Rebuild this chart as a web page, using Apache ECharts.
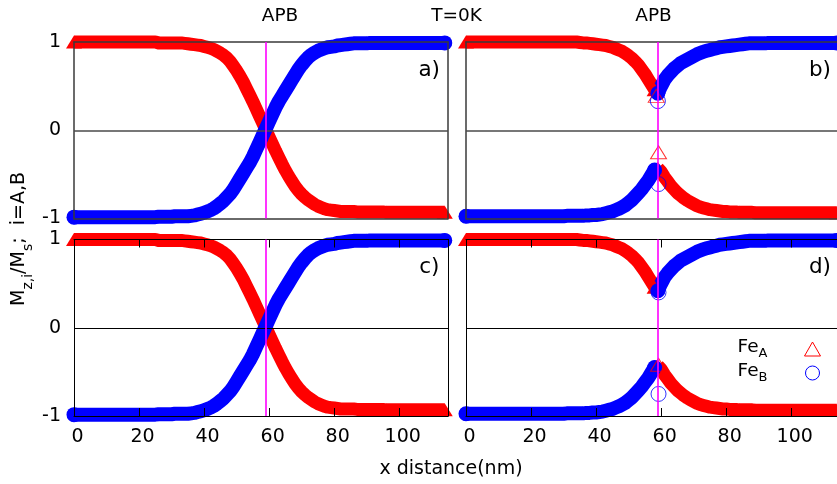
<!DOCTYPE html>
<html><head><meta charset="utf-8">
<script src="https://cdn.jsdelivr.net/npm/echarts@6/dist/echarts.min.js"></script>
<style>html,body{margin:0;padding:0;background:#fff}#c{width:837px;height:484px}</style>
</head><body><div id="c"></div>
<script>
// ---------- data ----------
const xTickLabels = [0, 20, 40, 60, 80, 100];
const yTickLabels = [-1, 0, 1];
const panelLetters = ['a)', 'b)', 'c)', 'd)'];
const apbX = 59.1;

// x positions (nm) for panels a) and c)
const xAll = [
  0,1,2,3,4,5,6,7,8,9, 10,11,12,13,14,15,16,17,18,19,
  20,21,22,23,24,25,26,27,28,29, 30,31,32,33,34,35,36,37,38,39,
  40,41,42,43,44,45,46,47,48,49, 50,51,52,53,54,55,56,57,58,59,
  60,61,62,63,64,65,66,67,68,69, 70,71,72,73,74,75,76,77,78,79,
  80,81,82,83,84,85,86,87,88,89, 90,91,92,93,94,95,96,97,98,99,
  100,101,102,103,104,105,106,107,108,109, 110,111,112,113,114
];
// panels a), c): Fe_A (red triangles)
const feA_ac = [
  1,1,1,1,1,1,1,1,1,1,
  1,1,1,1,1,1,1,1,1,1,
  1,1,1,1,1,1,0.99,0.99,0.99,0.99,
  0.99,0.99,0.99,0.99,0.985,0.98,0.975,0.97,0.965,0.96,
  0.95,0.94,0.93,0.915,0.895,0.875,0.85,0.82,0.78,0.73,
  0.675,0.615,0.55,0.475,0.40,0.325,0.245,0.165,0.085,0.005,
  -0.075,-0.155,-0.235,-0.31,-0.385,-0.455,-0.52,-0.58,-0.635,-0.685,
  -0.725,-0.76,-0.79,-0.815,-0.84,-0.86,-0.875,-0.89,-0.9,-0.905,
  -0.91,-0.915,-0.92,-0.92,-0.92,-0.92,-0.92,-0.925,-0.925,-0.925,
  -0.925,-0.925,-0.925,-0.925,-0.925,-0.925,-0.93,-0.93,-0.93,-0.93,
  -0.93,-0.93,-0.93,-0.93,-0.93,-0.93,-0.93,-0.93,-0.93,-0.93,
  -0.93,-0.93,-0.93,-0.93,-0.93
];
// panels a), c): Fe_B (blue circles)
const feB_ac = [
  -0.985,-0.985,-0.985,-0.985,-0.985,-0.985,-0.985,-0.985,-0.985,-0.985,
  -0.985,-0.985,-0.985,-0.985,-0.985,-0.985,-0.985,-0.985,-0.985,-0.985,
  -0.985,-0.985,-0.985,-0.985,-0.985,-0.985,-0.98,-0.98,-0.98,-0.98,
  -0.98,-0.975,-0.975,-0.975,-0.975,-0.975,-0.97,-0.965,-0.955,-0.945,
  -0.935,-0.92,-0.905,-0.885,-0.86,-0.83,-0.8,-0.76,-0.72,-0.67,
  -0.61,-0.55,-0.49,-0.43,-0.37,-0.3,-0.22,-0.14,-0.06,0.02,
  0.1,0.18,0.26,0.33,0.39,0.45,0.51,0.57,0.63,0.69,
  0.74,0.785,0.825,0.855,0.88,0.9,0.915,0.93,0.94,0.945,
  0.95,0.96,0.965,0.97,0.975,0.98,0.985,0.985,0.985,0.985,
  0.985,0.99,0.99,0.99,0.99,0.99,0.99,0.99,0.99,0.99,
  0.99,0.99,0.99,0.99,0.99,0.99,0.99,0.99,0.99,0.99,
  0.99,0.99,0.99,0.99,0.99
];

// panels b), d): branches left / right of the APB
const xLeft = [
  0,1,2,3,4,5,6,7,8,9, 10,11,12,13,14,15,16,17,18,19,
  20,21,22,23,24,25,26,27,28,29, 30,31,32,33,34,35,36,37,38,39,
  40,41,42,43,44,45,46,47,48,49, 50,51,52,53,54,55,56,57,58
];
const xRight = [
  59,60,61,62,63,64,65,66,67,68,69,
  70,71,72,73,74,75,76,77,78,79, 80,81,82,83,84,85,86,87,88,89,
  90,91,92,93,94,95,96,97,98,99, 100,101,102,103,104,105,106,107,108,109,
  110,111,112,113,114
];
const feA_bd_left = [
  1,1,1,1,1,1,1,1,1,1,
  1,1,1,1,1,1,1,1,1,1,
  1,1,1,1,1,1,1,1,1,1,
  1,1,1,1,1,0.995,0.99,0.99,0.985,0.98,
  0.975,0.97,0.965,0.96,0.95,0.94,0.925,0.91,0.895,0.87,
  0.845,0.815,0.78,0.74,0.69,0.64,0.58,0.52,0.46
];
const feA_bd_right = [
  -0.43,-0.47,-0.53,-0.58,-0.63,-0.67,-0.71,-0.74,-0.77,-0.795,-0.815,
  -0.835,-0.855,-0.87,-0.88,-0.89,-0.9,-0.905,-0.91,-0.915,-0.92,
  -0.92,-0.925,-0.925,-0.925,-0.93,-0.93,-0.93,-0.93,-0.93,-0.935,
  -0.935,-0.935,-0.935,-0.935,-0.935,-0.935,-0.935,-0.935,-0.935,-0.935,
  -0.935,-0.935,-0.935,-0.935,-0.935,-0.935,-0.935,-0.935,-0.935,-0.935,
  -0.935,-0.935,-0.935,-0.935,-0.935
];
const feB_bd_left = [
  -0.975,-0.975,-0.975,-0.975,-0.975,-0.975,-0.975,-0.975,-0.975,-0.975,
  -0.975,-0.975,-0.975,-0.975,-0.975,-0.975,-0.975,-0.975,-0.975,-0.975,
  -0.975,-0.975,-0.975,-0.975,-0.975,-0.975,-0.975,-0.975,-0.975,-0.975,
  -0.975,-0.97,-0.97,-0.97,-0.97,-0.97,-0.97,-0.965,-0.965,-0.96,
  -0.96,-0.955,-0.95,-0.94,-0.93,-0.92,-0.905,-0.89,-0.87,-0.85,
  -0.82,-0.79,-0.75,-0.71,-0.67,-0.62,-0.57,-0.51,-0.45
];
const feB_bd_right = [
  0.42,0.5,0.57,0.62,0.66,0.7,0.73,0.76,0.78,0.8,0.82,
  0.84,0.86,0.875,0.89,0.9,0.91,0.92,0.93,0.94,0.945,
  0.95,0.955,0.96,0.965,0.97,0.975,0.98,0.985,0.985,0.985,
  0.985,0.985,0.985,0.99,0.99,0.99,0.99,0.99,0.99,0.99,
  0.99,0.99,0.99,0.99,0.99,0.99,0.99,0.99,0.99,0.99,
  0.99,0.99,0.99,0.99,0.99
];
// isolated APB sites (open symbols)
const apbB_feA = [[58.5, 0.39], [59.2, -0.25]];
const apbB_feB = [[59.0, 0.33], [59.2, -0.61]];
const apbD_feA = [[59.2, -0.42]];
const apbD_feB = [[59.2, 0.40], [59.2, -0.75]];

// ---------- chart ----------
const FONT = 'DejaVu Sans';
const RED = '#ff0000', BLUE = '#0000ff', MAG = '#ff00ff';
const SYM_A = {symbol: 'triangle', symbolSize: [16, 13]};
const SYM_B = {symbol: 'circle', symbolSize: 15};
const pairs = (xs, ys) => xs.map((x, i) => [x, ys[i]]).filter(p => p[1] != null);

const grids = [
  {left: 74, top: 42, width: 374, height: 176.5},
  {left: 466, top: 42, width: 374, height: 176.5},
  {left: 74, top: 239.5, width: 374, height: 176.5},
  {left: 466, top: 239.5, width: 374, height: 176.5}
].map(g => Object.assign({outerBoundsMode: 'none', containLabel: false}, g));

const xAxes = [], yAxes = [], series = [];

// a dense run of symbols, drawn as a thick stroke through the points with the symbol at both ends
function band(kind, xi, yi, pts) {
  const isRed = kind === 'A';
  const col = isRed ? RED : BLUE;
  const sym = isRed ? SYM_A : SYM_B;
  const data = pts.map((p, k) => (k === 0 || k === pts.length - 1)
    ? Object.assign({value: p}, sym) : {value: p});
  series.push({type: 'line', name: isRed ? 'FeA' : 'FeB', xAxisIndex: xi, yAxisIndex: yi, data: data,
    symbol: 'none', showSymbol: true, showAllSymbol: true, clip: false, silent: true, animation: false, z: 2,
    itemStyle: {color: col},
    lineStyle: {color: col, width: isRed ? 13 : 14, cap: isRed ? 'butt' : 'round', join: 'round'}});
}
function openPts(kind, xi, yi, data, marks) {
  const isRed = kind === 'A';
  const s = Object.assign({type: 'scatter', name: isRed ? 'FeA' : 'FeB', xAxisIndex: xi, yAxisIndex: yi, data: data,
    itemStyle: {color: 'rgba(0,0,0,0)', borderColor: isRed ? RED : BLUE, borderWidth: 1},
    silent: true, animation: false, z: 3}, isRed ? SYM_A : SYM_B);
  if (marks) s.markLine = marks;
  series.push(s);
}

for (let i = 0; i < 4; i++) {
  const bottom = i >= 2, leftCol = (i % 2 === 0);
  const fc = bottom ? '#000' : '#3a3a3a', fw = bottom ? 1 : 1.5;
  const baseX = {gridIndex: i, type: 'value', min: 0, max: 115, interval: 20, z: 4,
    splitLine: {show: false},
    axisLine: {show: true, onZero: false, lineStyle: {color: fc, width: fw}},
    axisTick: {show: bottom, inside: true, length: 8, lineStyle: {color: '#000', width: 1}}};
  xAxes.push(Object.assign({}, baseX, {position: 'bottom',
    axisLabel: {show: bottom, color: '#000', fontFamily: FONT, fontSize: 19, margin: 12,
      padding: [0, 0, 0, 7],
      formatter: v => xTickLabels.indexOf(v) >= 0 ? String(v) : ''}}));
  xAxes.push(Object.assign({}, baseX, {position: 'top', axisLabel: {show: false}}));
  const baseY = {gridIndex: i, type: 'value', min: -1, max: 1, interval: 1, z: 4,
    splitLine: {show: false}, axisTick: {show: false},
    axisLine: {show: true, onZero: false, lineStyle: {color: fc, width: fw}}};
  yAxes.push(Object.assign({}, baseY, {position: 'left',
    axisLabel: {show: leftCol, color: '#000', fontFamily: FONT, fontSize: 19, margin: 13,
      formatter: v => yTickLabels.indexOf(v) >= 0 ? String(v) : ''}}));
  yAxes.push(Object.assign({}, baseY, {position: 'right', axisLabel: {show: false}}));

  const xi = 2 * i, yi = 2 * i;
  const marks = {silent: true, symbol: 'none', animation: false, label: {show: false},
    data: [
      {yAxis: 0, lineStyle: {color: bottom ? '#000' : '#4a4a4a', width: bottom ? 1 : 1.5, type: 'solid'}},
      {xAxis: apbX, lineStyle: {color: MAG, width: 1.6, type: 'solid'}}
    ]};
  if (leftCol) {
    band('A', xi, yi, pairs(xAll, feA_ac));
    band('B', xi, yi, pairs(xAll, feB_ac));
    series[series.length - 1].markLine = marks;
  } else {
    band('A', xi, yi, pairs(xLeft, feA_bd_left));
    band('A', xi, yi, pairs(xRight, feA_bd_right));
    band('B', xi, yi, pairs(xLeft, feB_bd_left));
    band('B', xi, yi, pairs(xRight, feB_bd_right));
    openPts('A', xi, yi, i === 1 ? apbB_feA : apbD_feA);
    openPts('B', xi, yi, i === 1 ? apbB_feB : apbD_feB, marks);
  }
}

const txt = (text, x, y, size, align) => ({type: 'text', x: x, y: y, silent: true,
  style: {text: text, fontFamily: FONT, fontSize: size, fill: '#000', align: align || 'center', verticalAlign: 'middle'}});

const chart = echarts.init(document.getElementById('c'), null, {renderer: 'canvas'});
chart.setOption({
  animation: false,
  backgroundColor: '#fff',
  grid: grids,
  xAxis: xAxes,
  yAxis: yAxes,
  series: series,
  legend: {
    orient: 'vertical', right: 11, top: 333, align: 'right', itemGap: 2,
    itemWidth: 16, itemHeight: 14, selectedMode: false,
    data: [
      {name: 'FeA', icon: 'triangle', itemStyle: {color: 'rgba(0,0,0,0)', borderColor: RED, borderWidth: 1}},
      {name: 'FeB', icon: 'circle', itemStyle: {color: 'rgba(0,0,0,0)', borderColor: BLUE, borderWidth: 1}}
    ],
    formatter: n => n === 'FeA' ? '{n|Fe}{s|A}' : '{n|Fe}{s|B}',
    textStyle: {fontFamily: FONT, color: '#000', padding: [0, 32, 0, 0],
      rich: {n: {fontFamily: FONT, fontSize: 18.5, lineHeight: 22, verticalAlign: 'top'},
             s: {fontFamily: FONT, fontSize: 13, lineHeight: 13, verticalAlign: 'top', padding: [9, 0, 0, 0]}}}
  },
  graphic: [
    txt('APB', 280, 16, 18.5),
    txt('T=0K', 456.5, 16, 18.5),
    txt('APB', 653.5, 16, 18.5),
    txt(panelLetters[0], 440, 70.5, 21.5, 'right'),
    txt(panelLetters[1], 831, 70.5, 21.5, 'right'),
    txt(panelLetters[2], 439.5, 267.5, 21.5, 'right'),
    txt(panelLetters[3], 831, 267.5, 21.5, 'right'),
    txt('x distance(nm)', 451, 469, 19),
    {type: 'text', x: 22, y: 239, rotation: Math.PI / 2, silent: true,
     style: {text: '{n|M}{s|z,i}{n|/M}{s|s}{n|;  i=A,B}', align: 'center', verticalAlign: 'middle', fill: '#000',
       rich: {n: {fontFamily: FONT, fontSize: 19, lineHeight: 24, verticalAlign: 'top'},
              s: {fontFamily: FONT, fontSize: 14, lineHeight: 14, verticalAlign: 'top', padding: [11, 0, 0, 0]}}}}
  ]
});
</script>
</body></html>
